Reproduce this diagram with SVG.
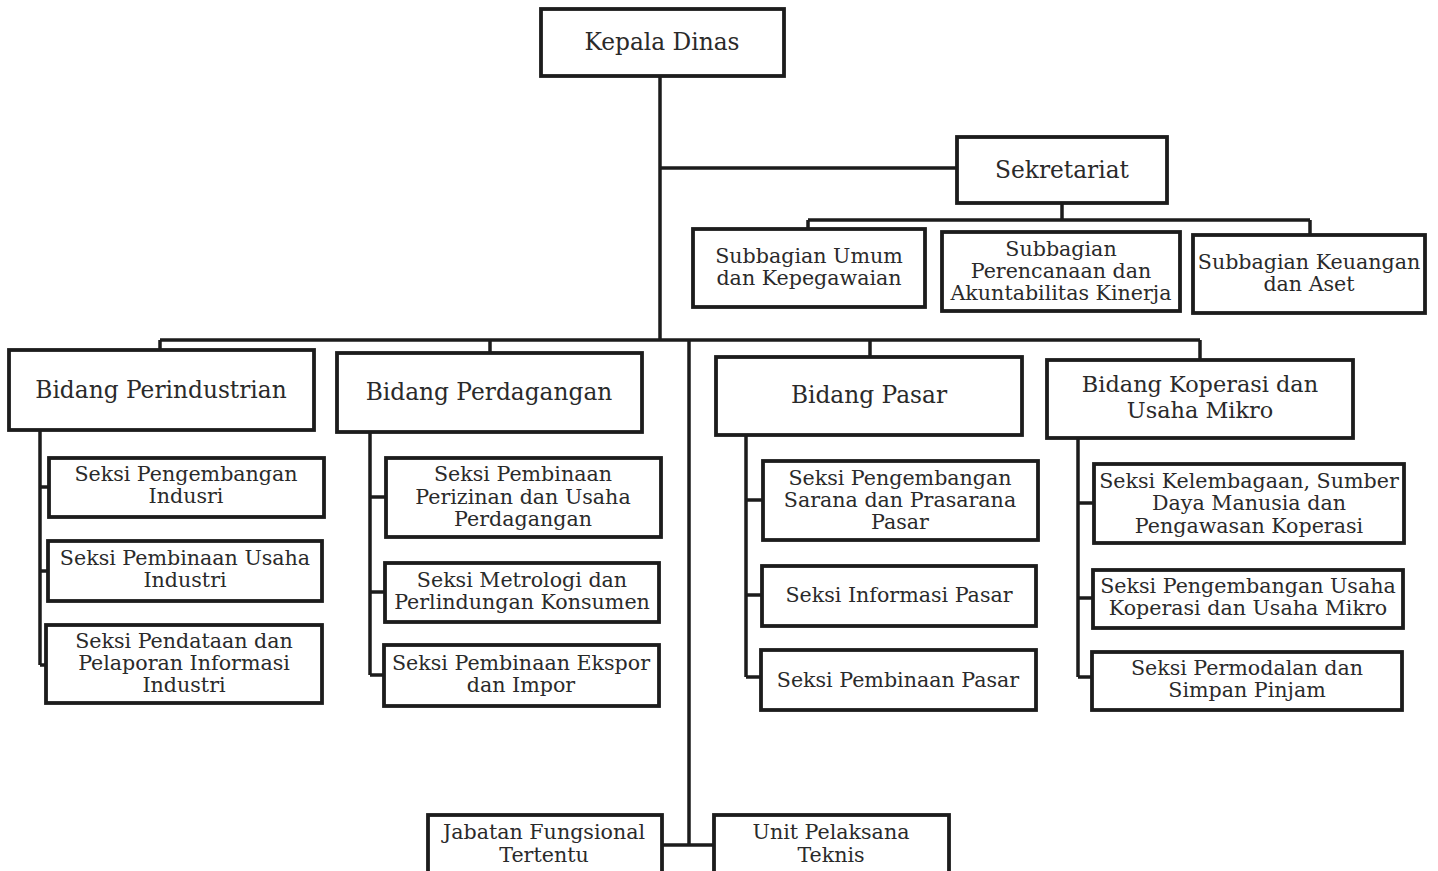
<svg xmlns="http://www.w3.org/2000/svg" width="1438" height="871" viewBox="0 0 1438 871">
<style>
.box{fill:#fff;stroke:#1c1c1c;stroke-width:3.8}
.ln{stroke:#1c1c1c;stroke-width:3.5;fill:none}
text{font-family:"DejaVu Serif","Liberation Serif",serif;fill:#2a2a2a;text-anchor:middle;dominant-baseline:central;font-size:20.6px}
.big{font-size:23.3px}
.mid{font-size:22.4px}
</style>
<rect width="1438" height="871" fill="#fff"/>
<g id="connectors">
<path class="ln" d="M660 76V340M660 168H957M1062 203V220M808 220H1310M808 220V229M1310 220V235"/>
<path class="ln" d="M160 340H1200M160 340V350M490 340V353M870 340V357M1200 340V360"/>
<path class="ln" d="M689 340V845M662 845H714"/>
<path class="ln" d="M40 430V665M40 487H49M40 571H48M40 665H46"/>
<path class="ln" d="M370 432V675M370 497H386M370 592H385M370 675H384"/>
<path class="ln" d="M746 435V677M746 500H763M746 595H762M746 677H761"/>
<path class="ln" d="M1078 438V677M1078 503H1094M1078 598H1093M1078 677H1092"/>
</g>
<g id="kepala"><rect class="box" x="541" y="9" width="243" height="67"/><text class="big" x="662" y="41">Kepala Dinas</text></g>
<g id="sekretariat"><rect class="box" x="957" y="137" width="210" height="66"/><text class="big" x="1062" y="169">Sekretariat</text></g>
<g id="sub-umum"><rect class="box" x="693" y="229" width="232" height="78"/><text x="809" y="256">Subbagian Umum</text><text x="809" y="278">dan Kepegawaian</text></g>
<g id="sub-perencanaan"><rect class="box" x="942" y="232" width="238" height="79"/><text x="1061" y="249">Subbagian</text><text x="1061" y="271">Perencanaan dan</text><text x="1061" y="293">Akuntabilitas Kinerja</text></g>
<g id="sub-keuangan"><rect class="box" x="1193" y="235" width="232" height="78"/><text x="1309" y="262">Subbagian Keuangan</text><text x="1309" y="284">dan Aset</text></g>
<g id="bid-perindustrian"><rect class="box" x="9" y="350" width="305" height="80"/><text class="big" x="161" y="389">Bidang Perindustrian</text></g>
<g id="bid-perdagangan"><rect class="box" x="337" y="353" width="305" height="79"/><text class="big" x="489" y="391">Bidang Perdagangan</text></g>
<g id="bid-pasar"><rect class="box" x="716" y="357" width="306" height="78"/><text class="big" x="869" y="394">Bidang Pasar</text></g>
<g id="bid-koperasi"><rect class="box" x="1047" y="360" width="306" height="78"/><text class="mid" x="1200" y="384">Bidang Koperasi dan</text><text class="mid" x="1200" y="410">Usaha Mikro</text></g>
<g id="s-pengembangan-industri"><rect class="box" x="49" y="458" width="275" height="59"/><text x="186" y="474">Seksi Pengembangan</text><text x="186" y="496">Indusri</text></g>
<g id="s-pembinaan-usaha-industri"><rect class="box" x="48" y="541" width="274" height="60"/><text x="185" y="558">Seksi Pembinaan Usaha</text><text x="185" y="580">Industri</text></g>
<g id="s-pendataan"><rect class="box" x="46" y="625" width="276" height="78"/><text x="184" y="641">Seksi Pendataan dan</text><text x="184" y="663">Pelaporan Informasi</text><text x="184" y="685">Industri</text></g>
<g id="s-perizinan"><rect class="box" x="386" y="458" width="275" height="79"/><text x="523" y="474">Seksi Pembinaan</text><text x="523" y="497">Perizinan dan Usaha</text><text x="523" y="519">Perdagangan</text></g>
<g id="s-metrologi"><rect class="box" x="385" y="563" width="274" height="59"/><text x="522" y="580">Seksi Metrologi dan</text><text x="522" y="602">Perlindungan Konsumen</text></g>
<g id="s-ekspor"><rect class="box" x="384" y="645" width="275" height="61"/><text x="521" y="663">Seksi Pembinaan Ekspor</text><text x="521" y="685">dan Impor</text></g>
<g id="s-sarana"><rect class="box" x="763" y="461" width="275" height="79"/><text x="900" y="478">Seksi Pengembangan</text><text x="900" y="500">Sarana dan Prasarana</text><text x="900" y="522">Pasar</text></g>
<g id="s-informasi"><rect class="box" x="762" y="566" width="274" height="60"/><text x="899" y="595">Seksi Informasi Pasar</text></g>
<g id="s-pembinaan-pasar"><rect class="box" x="761" y="650" width="275" height="60"/><text x="898" y="680">Seksi Pembinaan Pasar</text></g>
<g id="s-kelembagaan"><rect class="box" x="1094" y="464" width="310" height="79"/><text x="1249" y="481">Seksi Kelembagaan, Sumber</text><text x="1249" y="503">Daya Manusia dan</text><text x="1249" y="526">Pengawasan Koperasi</text></g>
<g id="s-usaha-koperasi"><rect class="box" x="1093" y="570" width="310" height="58"/><text x="1248" y="586">Seksi Pengembangan Usaha</text><text x="1248" y="608">Koperasi dan Usaha Mikro</text></g>
<g id="s-permodalan"><rect class="box" x="1092" y="652" width="310" height="58"/><text x="1247" y="668">Seksi Permodalan dan</text><text x="1247" y="690">Simpan Pinjam</text></g>
<g id="jabatan"><rect class="box" x="428" y="815" width="234" height="70"/><text x="544" y="832">Jabatan Fungsional</text><text x="544" y="855">Tertentu</text></g>
<g id="upt"><rect class="box" x="714" y="815" width="235" height="70"/><text x="831" y="832">Unit Pelaksana</text><text x="831" y="855">Teknis</text></g>
</svg>
